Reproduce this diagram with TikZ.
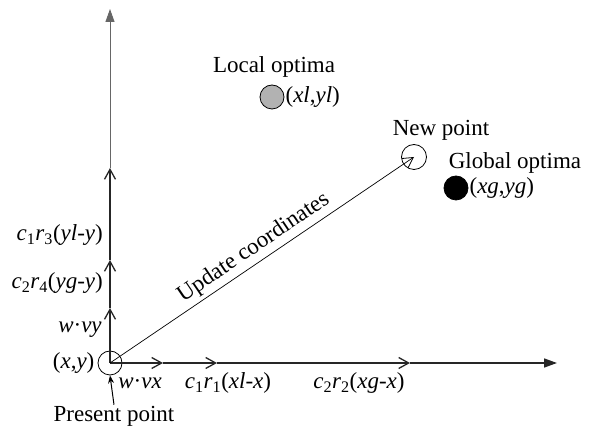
\documentclass[tikz,border=0pt]{standalone}
\usepackage{fontspec}
\setmainfont{Liberation Serif}
\usetikzlibrary{arrows.meta,positioning}
\tikzset{
  axis/.style={line width=1.6pt, draw=black!85},
  midtip/.style={-{Straight Barb[length=10pt,width=11pt,line width=1.3pt]}},
  endtip/.style={-{Triangle[length=13pt,width=9pt]}},
  pt/.style={circle, draw, line width=0.8pt, minimum size=24pt, inner sep=0pt},
  lbl/.style={font=\fontsize{23}{26}\selectfont, inner sep=1pt},
  upd/.style={line width=0.7pt, -{Straight Barb[length=10pt,width=11pt,line width=0.8pt]}},
}
\begin{document}
\begin{tikzpicture}[x=1pt,y=-1pt]
  \useasboundingbox (0,0) rectangle (598,435);
  % points
  \node[pt] (orig) at (110,363) {};
  \node[pt, minimum size=25pt] (newpt) at (414,157) {};
  \node[pt, fill=black!30] (loc) at (272,97) {};
  \node[pt, fill=black] (glob) at (456,188) {};

  % axis stops
  \coordinate (v1) at (110,308);
  \coordinate (v2) at (110,260);
  \coordinate (v3) at (110,168);
  \coordinate (vtop) at (110,9);
  \coordinate (h1) at (163,363);
  \coordinate (h2) at (217,363);
  \coordinate (h3) at (410,363);
  \coordinate (hend) at (557,363);

  % labels
  \node[lbl, left=2pt of orig] (xy) {(\textit{x},\textit{y})};
  \node[lbl] (wvx) at (140,383) {\textit{w}·\textit{vx}};
  \node[lbl] (cx1) at (228,383) {\textit{c}\textsubscript{1}\textit{r}\textsubscript{1}(\textit{xl}-\textit{x})};
  \node[lbl] (cx2) at (359,383) {\textit{c}\textsubscript{2}\textit{r}\textsubscript{2}(\textit{xg}-\textit{x})};
  \node[lbl] (wvy) at (80,330) {\textit{w}·\textit{vy}};
  \node[lbl, anchor=east] (cy2) at (104,283) {\textit{c}\textsubscript{2}\textit{r}\textsubscript{4}(\textit{yg}-\textit{y})};
  \node[lbl, anchor=east] (cy1) at (104,235) {\textit{c}\textsubscript{1}\textit{r}\textsubscript{3}(\textit{yl}-\textit{y})};
  \node[lbl] (present) at (114,416) {Present point};
  \node[lbl] (newlbl) at (441,130) {New point};
  \node[lbl] (loclbl) at (274,67) {Local optima};
  \node[lbl, right=0pt of loc] (locxy) {(\textit{xl},\textit{yl})};
  \node[lbl] (globlbl) at (515,163) {Global optima};
  \node[lbl, right=0pt of glob] (globxy) {(\textit{xg},\textit{yg})};

  % axes
  \draw[axis, midtip] (orig.center) -- (v1);
  \draw[axis, midtip] (v1) -- (v2);
  \draw[axis, midtip] (v2) -- (v3);
  \draw[axis, endtip, line width=0.9pt, draw=black!60] (v3) -- (vtop);
  \draw[axis, midtip] (orig.center) -- (h1);
  \draw[axis, midtip] (h1) -- (h2);
  \draw[axis, midtip] (h2) -- (h3);
  \draw[axis, endtip] (h3) -- (hend);

  \draw[line width=1pt, -{Stealth[length=8pt,width=6pt]}] (present.north) -- (orig.south);
  \draw[upd] (orig.center) -- (newpt.center)
    node[lbl, midway, sloped, above=3pt] (updlbl) {Update coordinates};
\end{tikzpicture}
\end{document}
